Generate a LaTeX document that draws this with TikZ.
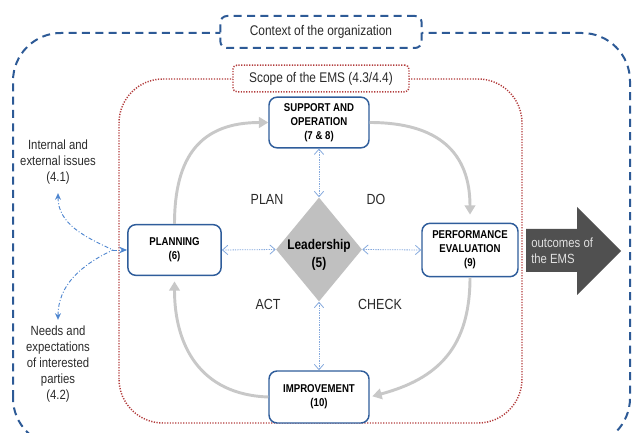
\documentclass[tikz,border=0pt]{standalone}
\usepackage{fontspec}
\setmainfont{Liberation Sans}[FakeStretch=0.85]
\usetikzlibrary{arrows.meta, shapes.geometric}
\definecolor{ctxblue}{HTML}{2D5A96}
\definecolor{boxblue}{HTML}{2F5D9B}
\definecolor{linkblue}{HTML}{85A9DD}
\definecolor{issueblue}{HTML}{4F86CF}
\definecolor{scopered}{HTML}{B23B3B}
\definecolor{cyclegray}{HTML}{C8C8C8}
\definecolor{leadgray}{HTML}{C0C0C0}
\definecolor{outgray}{HTML}{505050}
\definecolor{textgray}{HTML}{2A2A2A}

\begin{document}
\begin{tikzpicture}[x=0.75pt, y=0.75pt,
  clause/.style={draw=boxblue, line width=1.1pt, rounded corners=6pt, fill=white,
    align=center, inner sep=0pt, font=\fontsize{8.5}{10.5}\selectfont\bfseries},
  ctxline/.style={ctxblue, line width=1.5pt, dash pattern=on 6pt off 4pt},
  ctxbox/.style={draw, ctxline, rounded corners=5pt, fill=white, minimum width=151pt,
    minimum height=24pt, text=textgray, font=\fontsize{10.5}{12}\selectfont},
  scopeline/.style={scopered, line width=1.1pt, dash pattern=on 0.9pt off 1.1pt},
  scopebox/.style={draw, scopeline, rounded corners=3pt, fill=white, minimum width=132pt,
    minimum height=20pt, text=textgray, font=\fontsize{10.5}{12}\selectfont},
  leader/.style={diamond, fill=leadgray, inner sep=0pt, minimum width=64.5pt, minimum height=78pt},
  leadtext/.style={align=center, font=\fontsize{10.5}{13}\selectfont\bfseries},
  cycle/.style={cyclegray, line width=2.2pt, -{Triangle[length=7pt, width=8pt]}},
  link/.style={linkblue, line width=0.6pt, dash pattern=on 1pt off 0.8pt,
    {Straight Barb[length=4pt, width=7pt]}-{Straight Barb[length=4pt, width=7pt]}},
  issuelink/.style={issueblue, line width=0.7pt, dash pattern=on 3pt off 1.5pt on 0.7pt off 1.5pt},
  issue/.style={align=center, inner sep=2pt, text=textgray, font=\fontsize{10}{12}\selectfont},
  phase/.style={text=textgray, font=\fontsize{11}{13}\selectfont},
  outtext/.style={anchor=west, align=left, text=black!12, inner sep=0pt, font=\fontsize{10}{12}\selectfont}
]
  \useasboundingbox (0,0) rectangle (635,432);

  % context of the organization (runs off the bottom edge)
  \begin{scope}
    \clip (0,0) rectangle (635,432);
    \draw[ctxline, rounded corners=36pt] (13,-14) rectangle (630,399);
  \end{scope}
  \node[ctxbox] (context) at (321,400) {Context of the organization};

  % scope of the EMS
  \draw[scopeline, rounded corners=33pt] (119,9) rectangle (522,353);
  \node[scopebox] (scope) at (321,353.5) {Scope of the EMS (4.3/4.4)};

  % clauses round the leadership diamond
  \node[clause, minimum width=75pt, minimum height=38pt] (support) at (319,309.5) {SUPPORT AND\\OPERATION\\(7 \& 8)};
  \node[clause, minimum width=70pt, minimum height=38pt] (planning) at (174.5,182) {PLANNING\\(6)};
  \node[clause, minimum width=72pt, minimum height=40pt] (perf) at (470,182) {PERFORMANCE\\EVALUATION\\(9)};
  \node[clause, minimum width=75pt, minimum height=39pt] (improve) at (319,35) {IMPROVEMENT\\(10)};
  \node[leader, label={[leadtext, yshift=-4pt]center:{Leadership\\(5)}}] (lead) at (319,182.5) {};

  % PDCA cycle
  \draw[cycle] (planning.north) to[out=90, in=180, looseness=1.25] (support.west);
  \draw[cycle, shorten >=6pt] (support.east) to[out=0, in=90, looseness=1.25] (perf.north);
  \draw[cycle, shorten >=2pt] (perf.south) to[out=-90, in=15, looseness=1.15] (improve.east);
  \draw[cycle, shorten >=4pt] (improve.west) to[out=178, in=-90, looseness=1.15] (planning.south);

  \node[phase] (plan) at (267,233) {PLAN};
  \node[phase] (do) at (376,233) {DO};
  \node[phase] (act) at (268,128) {ACT};
  \node[phase] (check) at (380,128) {CHECK};

  % leadership links
  \draw[link] (support.south) -- (lead.north);
  \draw[link] (planning.east) -- (lead.west);
  \draw[link] (lead.east) -- (perf.west);
  \draw[link] (lead.south) -- (improve.north);

  % issues feeding planning
  \node[issue] (issues) at (58,270) {Internal and\\external issues\\(4.1)};
  \node[issue] (needs) at (58,68) {Needs and\\expectations\\of interested\\parties\\(4.2)};
  \coordinate (hub) at (113,182);
  \draw[issuelink, {Stealth[length=5pt, width=4.5pt]}-] (issues.south) ++(0,-6) to[out=-90, in=155] (hub);
  \draw[issuelink, {Stealth[length=5pt, width=4.5pt]}-] (needs.north) ++(0,3) to[out=90, in=205] (hub);
  \draw[issuelink, -{Stealth[length=6pt, width=5pt]}] (hub) -- (planning.west);

  % outcomes arrow
  \fill[outgray] (526,203) -- (577,203) -- (577,225) -- (621,181) -- (577,137) -- (577,160) -- (526,160) -- cycle;
  \node[outtext] (outcome) at (531,181) {outcomes of\\the EMS};
\end{tikzpicture}
\end{document}
